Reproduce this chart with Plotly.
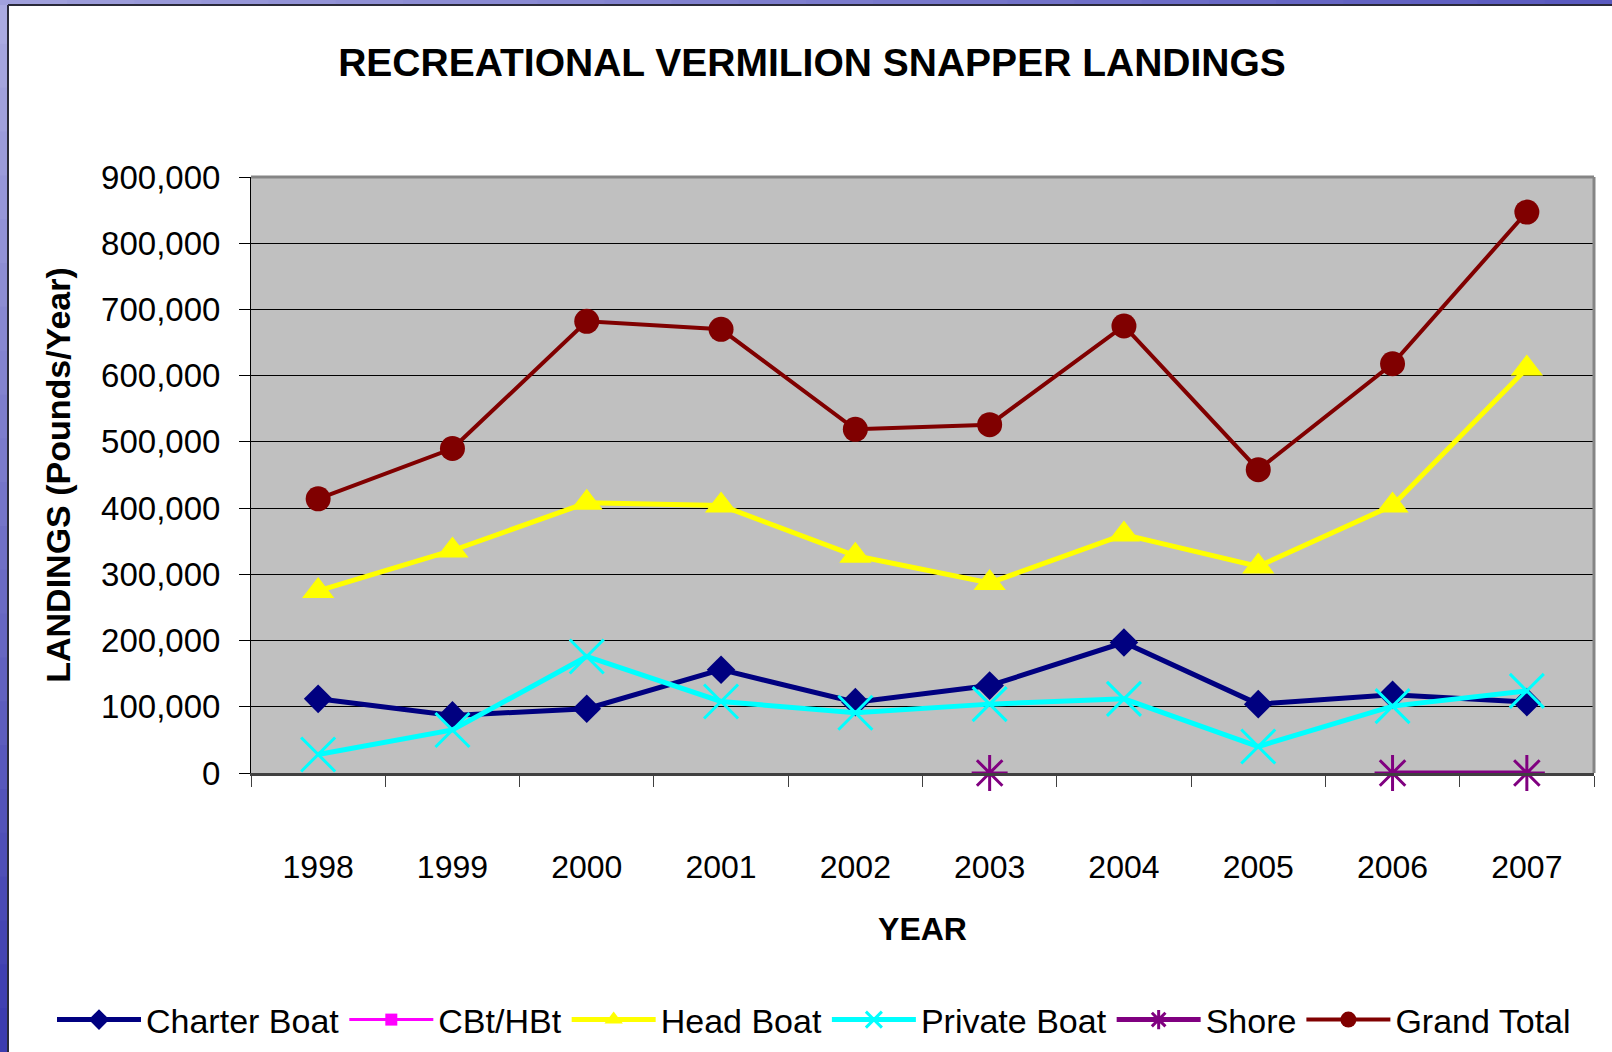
import plotly.graph_objects as go

# Recreational vermilion snapper landings (pounds per year) by mode
years = ["1998", "1999", "2000", "2001", "2002", "2003", "2004", "2005", "2006", "2007"]
charter_boat = [112000, 87000, 97000, 156000, 107000, 132000, 197000, 104000, 118000, 107000]
cbt_hbt = [None] * 10
head_boat = [275000, 336000, 408000, 404000, 328000, 287000, 360000, 312000, 404000, 611000]
private_boat = [28000, 65000, 176000, 108000, 91000, 104000, 112000, 40000, 101000, 124000]
shore = [None, None, None, None, None, 0, None, None, 0, 0]
grand_total = [414000, 490000, 682000, 670000, 519000, 526000, 675000, 458000, 618000, 847000]

y_ticks = [0, 100000, 200000, 300000, 400000, 500000, 600000, 700000, 800000, 900000]

W, H = 1612, 1052
ML, MR, MT, MB = 251, 18, 177, 279
PW, PH = W - ML - MR, H - MT - MB

FONT = "Arial, Liberation Sans, sans-serif"


def px_x(px):
    return (px - ML) / PW


def px_y(py):
    return (H - MB - py) / PH


fig = go.Figure()

fig.add_trace(go.Scatter(
    x=years, y=charter_boat, name="Charter Boat", mode="lines+markers",
    line=dict(color="#000080", width=5),
    marker=dict(symbol="diamond", size=22, color="#000080"),
))
fig.add_trace(go.Scatter(
    x=years, y=cbt_hbt, name="CBt/HBt", mode="lines+markers",
    line=dict(color="#ff00ff", width=3),
    marker=dict(symbol="square", size=12, color="#ff00ff"),
))
fig.add_trace(go.Scatter(
    x=years, y=head_boat, name="Head Boat", mode="lines+markers",
    line=dict(color="#ffff00", width=5),
    marker=dict(symbol="triangle-up", size=28, color="#ffff00"),
))
fig.add_trace(go.Scatter(
    x=years, y=private_boat, name="Private Boat", mode="lines+markers",
    line=dict(color="#00ffff", width=5),
    marker=dict(symbol="x-thin-open", size=34, color="#00ffff",
                line=dict(color="#00ffff", width=3)),
))
fig.add_trace(go.Scatter(
    x=years, y=shore, name="Shore", mode="lines+markers", cliponaxis=False,
    line=dict(color="#800080", width=5),
    marker=dict(symbol="asterisk-open", size=30, color="#800080",
                line=dict(color="#800080", width=3)),
))
fig.add_trace(go.Scatter(
    x=years, y=grand_total, name="Grand Total", mode="lines+markers",
    line=dict(color="#800000", width=4),
    marker=dict(symbol="circle", size=25, color="#800000"),
))

shapes = []
# frame of the plot area: grey top and right edges
shapes.append(dict(type="line", xref="paper", yref="paper", x0=0, x1=1, y0=1, y1=1,
                   line=dict(color="#858585", width=3)))
shapes.append(dict(type="line", xref="paper", yref="paper", x0=1, x1=1, y0=0, y1=1,
                   line=dict(color="#858585", width=3)))

# slide background strips along the left and top edges
n = 24
for i in range(n):
    t = i / (n - 1)
    r = int(170 - t * 110)
    g = int(170 - t * 110)
    b = int(225 - t * 50)
    shapes.append(dict(type="rect", xref="paper", yref="paper",
                       x0=px_x(0), x1=px_x(8),
                       y0=px_y(H * i / n), y1=px_y(H * (i + 1) / n) - 0.002,
                       line=dict(width=0), fillcolor=f"rgb({r},{g},{b})", layer="above"))
for i in range(n):
    t = i / (n - 1)
    r = int(160 - t * 70)
    g = int(160 - t * 70)
    b = int(220 - t * 28)
    shapes.append(dict(type="rect", xref="paper", yref="paper",
                       x0=px_x(W * i / n), x1=px_x(W * (i + 1) / n) + 0.002,
                       y0=px_y(0), y1=px_y(5),
                       line=dict(width=0), fillcolor=f"rgb({r},{g},{b})", layer="above"))
shapes.append(dict(type="line", xref="paper", yref="paper",
                   x0=px_x(8), x1=px_x(8), y0=px_y(5), y1=px_y(H),
                   line=dict(color="#2a2a3a", width=2), layer="above"))
shapes.append(dict(type="line", xref="paper", yref="paper",
                   x0=px_x(8), x1=px_x(W), y0=px_y(5), y1=px_y(5),
                   line=dict(color="#2a2a3a", width=2), layer="above"))

fig.update_layout(
    width=W, height=H,
    margin=dict(l=ML, r=MR, t=MT, b=MB, autoexpand=False),
    paper_bgcolor="white",
    plot_bgcolor="#c0c0c0",
    font=dict(family=FONT, color="black", size=32),
    title=dict(text="<b>RECREATIONAL VERMILION SNAPPER LANDINGS</b>",
               x=812 / W, xanchor="center", y=1 - 62 / H, yanchor="middle",
               font=dict(size=39, family=FONT)),
    showlegend=True,
    legend=dict(orientation="h", x=px_x(52), xanchor="left",
                y=px_y(1020), yanchor="middle",
                font=dict(size=34, family=FONT), bgcolor="rgba(0,0,0,0)",
                itemwidth=84),
    shapes=shapes,
    xaxis=dict(
        type="category", categoryorder="array", categoryarray=years,
        showgrid=False, zeroline=False,
        showline=True, linecolor="#404040", linewidth=3,
        ticks="outside", tickson="boundaries", ticklen=11, tickwidth=1, tickcolor="#404040",
        tickfont=dict(size=32, family=FONT), ticklabelstandoff=64,
        title=dict(text="<b>YEAR</b>", font=dict(size=32, family=FONT), standoff=34),
        range=[-0.5, 9.5],
    ),
    yaxis=dict(
        range=[0, 900000], tickvals=y_ticks, tickformat=",",
        showgrid=True, gridcolor="#000000", gridwidth=1,
        zeroline=False,
        showline=True, linecolor="#000000", linewidth=1,
        ticks="outside", ticklen=11, tickwidth=1, tickcolor="#000000",
        tickfont=dict(size=33, family=FONT), ticklabelstandoff=12,
        title=dict(text="<b>LANDINGS (Pounds/Year)</b>", font=dict(size=34, family=FONT), standoff=20),
    ),
)

fig.write_html("out.html")
